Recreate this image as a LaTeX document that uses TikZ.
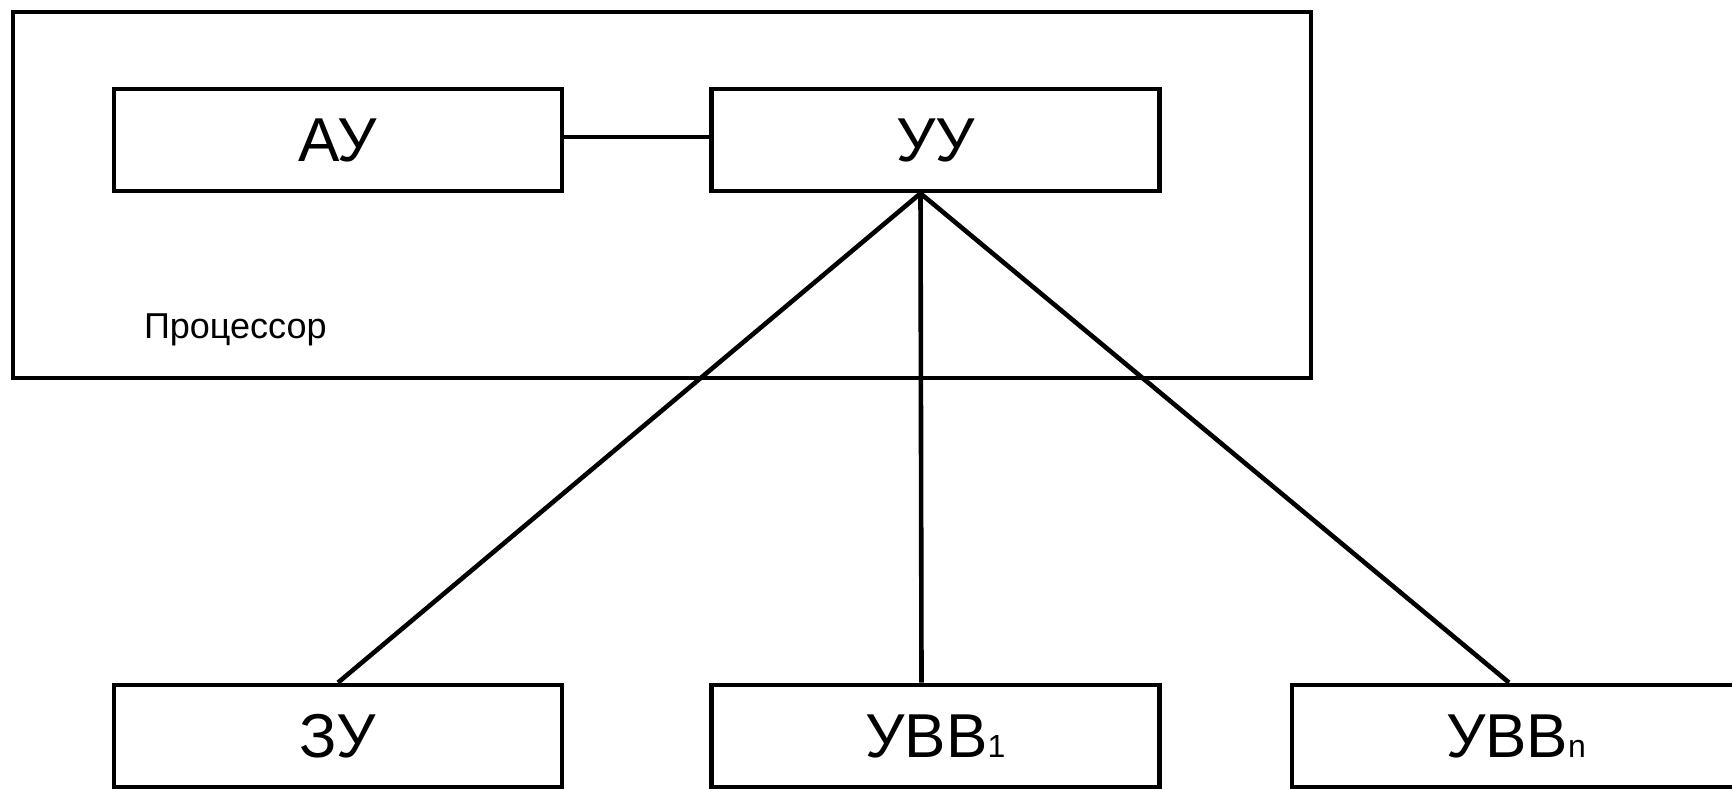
\documentclass[tikz,border=0pt]{standalone}
\usepackage{fontspec}
\setmainfont{Liberation Sans}
\usetikzlibrary{calc}
\tikzset{
  unit/.style={draw, line width=2.4pt, minimum width=224pt, minimum height=51pt,
    inner sep=0pt, font=\fontsize{31}{34}\selectfont},
  frame/.style={draw, line width=2.4pt, minimum width=649pt, minimum height=183pt, inner sep=0pt},
  link/.style={line width=2.3pt},
}
\newcommand{\idx}[1]{{\fontsize{16}{18}\selectfont #1}}
\begin{document}
\begin{tikzpicture}[x=0.5pt, y=-0.5pt]
  \useasboundingbox (0,0) rectangle (1732,788);
  \clip (0,0) rectangle (1732,788);
  % processor frame
  \node[frame] (proc) at (662,195) {};
  \node[anchor=base west, font=\fontsize{18}{20}\selectfont] (proclabel) at (137,338) {Процессор};
  % units
  \node[unit] (au) at (338,140) {АУ};
  \node[unit] (uu) at (935.5,140) {УУ};
  \node[unit] (zu) at (338,736) {ЗУ};
  \node[unit] (uvv1) at (935.5,736) {УВВ\idx{1}};
  \node[unit] (uvvn) at (1516,736) {УВВ\idx{n}};
  % connections
  \draw[link] ([yshift=1.5pt]au.east) -- ([yshift=1.5pt]uu.west);
  \coordinate (hub) at ($(uu.south)+(-15,0)$);
  \coordinate (uvv1top) at ($(uvv1.north)+(-14,0)$);
  \draw[link] (hub) -- (zu.north);
  \draw[link] (hub) -- (uvv1top);
  \draw[link] (hub) -- ($(uvvn.north)+(-7,0)$);
\end{tikzpicture}
\end{document}
